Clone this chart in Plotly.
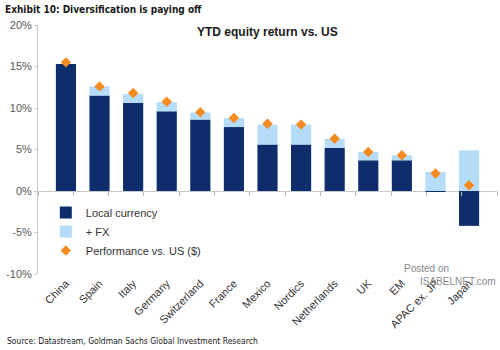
import plotly.graph_objects as go

categories = ["China", "Spain", "Italy", "Germany", "Switzerland", "France", "Mexico",
              "Nordics", "Netherlands", "UK", "EM", "APAC ex. JP", "Japan"]
local_currency = [15.3, 11.5, 10.6, 9.6, 8.6, 7.7, 5.6, 5.6, 5.2, 3.7, 3.7, -0.1, -4.2]
fx = [0.0, 1.1, 1.1, 1.1, 0.85, 1.1, 2.4, 2.4, 1.1, 1.0, 0.6, 2.3, 4.9]
perf_vs_us = [15.5, 12.6, 11.8, 10.75, 9.5, 8.8, 8.1, 8.0, 6.3, 4.7, 4.3, 2.1, 0.7]
y_ticks = [-10, -5, 0, 5, 10, 15, 20]
y_tick_labels = ["-10%", "-5%", "0%", "5%", "10%", "15%", "20%"]

NAVY = "#0d2d6c"
LIGHT = "#b5dcf8"
ORANGE = "#f58a1f"
GRAY = "#595959"
NARROW = "Liberation Sans Narrow, DejaVu Sans Condensed, Arial Narrow, sans-serif"

fig = go.Figure()
fig.add_trace(go.Bar(x=categories, y=local_currency, name="Local currency",
                     marker=dict(color=NAVY, line=dict(width=0))))
fig.add_trace(go.Bar(x=categories, y=fx, name="+ FX",
                     marker=dict(color=LIGHT, line=dict(width=0))))
fig.add_trace(go.Scatter(x=categories, y=perf_vs_us, name="Performance vs. US ($)",
                         mode="markers",
                         marker=dict(symbol="diamond", size=8, color=ORANGE)))
# invisible helper trace so the zero-line tick axis is drawn
fig.add_trace(go.Scatter(x=categories, y=[0] * len(categories), xaxis="x2", mode="markers",
                         marker=dict(opacity=0), showlegend=False, hoverinfo="skip"))

fig.update_layout(
    width=500, height=350,
    margin=dict(l=38, r=3, t=25, b=76),
    paper_bgcolor="white", plot_bgcolor="white",
    barmode="relative", bargap=0.4,
    font=dict(family="Liberation Sans, Arial, sans-serif", size=11, color=GRAY),
    showlegend=True,
    legend=dict(x=0.017, y=0.305, xanchor="left", yanchor="top",
                bgcolor="rgba(0,0,0,0)", font=dict(size=11, color="#333333"),
                tracegroupgap=0, itemwidth=30),
    xaxis=dict(tickangle=-45, showline=False, ticks="", showgrid=False,
               tickfont=dict(size=11, color="#333333")),
    xaxis2=dict(overlaying="x", anchor="free", position=1/3, type="category",
                categoryorder="array", categoryarray=categories,
                range=[-0.5, len(categories) - 0.5],
                ticks="outside", ticklen=4, tickcolor="#bbbbbb", tickwidth=1,
                tickson="boundaries", side="bottom",
                showticklabels=False, showline=False, showgrid=False, zeroline=False),
    yaxis=dict(range=[-10, 20], tickvals=y_ticks, ticktext=y_tick_labels,
               showgrid=False, showline=True, linecolor="#c8c8c8", linewidth=1,
               ticks="outside", ticklen=3, tickcolor="#c8c8c8",
               zeroline=True, zerolinecolor="#c8c8c8", zerolinewidth=1,
               tickfont=dict(size=11, color=GRAY)),
    annotations=[
        dict(text="<b>Exhibit 10: Diversification is paying off</b>", xref="paper", yref="paper",
             x=-35/459, y=1 + 16/249, xanchor="left", yanchor="middle", showarrow=False,
             font=dict(family=NARROW, size=10, color="#1a1a1a")),
        dict(text="<b>YTD equity return vs. US</b>", xref="paper", yref="paper",
             x=0.5, y=1 - 7/249, xanchor="center", yanchor="middle", showarrow=False,
             font=dict(family="Liberation Sans, Arial, sans-serif", size=12, color="#1a1a1a")),
        dict(text="Source: Datastream, Goldman Sachs Global Investment Research", xref="paper", yref="paper",
             x=-33/459, y=-(341-274)/249, xanchor="left", yanchor="middle", showarrow=False,
             font=dict(family=NARROW, size=8.5, color="#1a1a1a")),
        dict(text="Posted on", xref="paper", yref="paper",
             x=(402-38)/459, y=-(268-274)/249, xanchor="left", yanchor="middle", showarrow=False,
             font=dict(family="Liberation Sans, Arial, sans-serif", size=10, color="#8a8a8a")),
        dict(text="ISABELNET.com", xref="paper", yref="paper",
             x=(418-38)/459, y=-(281-274)/249, xanchor="left", yanchor="middle", showarrow=False,
             font=dict(family="Liberation Sans, Arial, sans-serif", size=10, color="#8a8a8a")),
    ],
)

fig.write_html("out.html")
